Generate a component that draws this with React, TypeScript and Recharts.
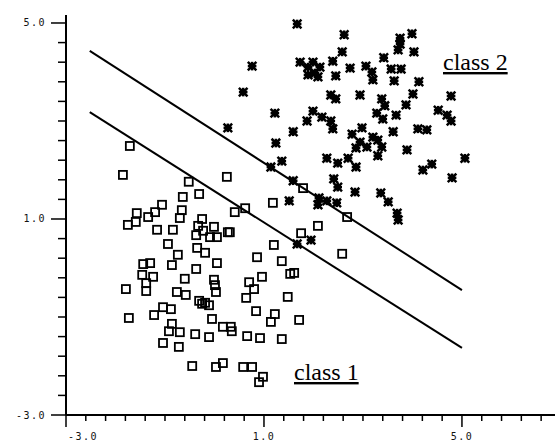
import React from "react";
import { ScatterChart, Scatter, XAxis, YAxis, Customized } from "recharts";

// class 1 (open squares), [x, y]
const CLASS_1: [number, number][] = [
  [-1.71, 2.49], [-1.85, 1.9], [-0.52, 1.76], [0.25, 1.86], [-0.64, 1.45],
  [-0.31, 1.51], [-1.06, 1.29], [-1.2, 1.14], [-1.34, 1.04], [-1.57, 1.12],
  [-1.59, 0.94], [-1.75, 0.88], [-0.66, 1.18], [-0.7, 1.02], [-0.25, 1.0],
  [-1.16, 0.78], [-0.84, 0.78], [-0.33, 0.86], [-0.23, 0.76], [-0.37, 0.67],
  [-0.01, 0.84], [-0.09, 0.63], [0.05, 0.63], [0.27, 0.73], [-0.94, 0.49],
  [-0.35, 0.41], [-0.19, 0.31], [-0.74, 0.27], [-1.44, 0.08], [-1.3, 0.1],
  [-0.86, 0.06], [0.05, 0.1], [-0.37, -0.02], [-1.46, -0.14], [-1.24, -0.18],
  [-1.79, -0.43], [-1.38, -0.31], [-1.38, -0.47], [-0.6, -0.22], [-0.01, -0.24],
  [0.01, -0.35], [0.03, -0.49], [-0.76, -0.49], [-0.58, -0.55], [-0.31, -0.67],
  [-0.19, -0.71], [-0.11, -0.76], [-0.25, -0.73], [-1.04, -0.8], [-0.88, -0.84],
  [-1.22, -0.96], [-1.73, -1.02], [-0.05, -1.04], [0.17, -1.2], [0.33, -1.2],
  [-0.86, -1.14], [-0.92, -1.29], [-0.7, -1.31], [-0.39, -1.35], [-0.11, -1.41],
  [-1.04, -1.53], [-0.72, -1.61], [-0.45, -2.0], [0.03, -2.02], [0.17, -1.94],
  [1.18, 1.33], [0.41, 1.14], [0.62, 1.22], [0.31, 0.73], [1.75, 0.71],
  [2.09, 0.86], [1.79, 1.63], [2.68, 1.04], [1.2, 0.47], [0.86, 0.22],
  [1.36, 0.14], [2.58, 0.29], [0.96, -0.18], [0.7, -0.29], [0.8, -0.43],
  [0.64, -0.61], [1.53, -0.12], [1.61, -0.1], [1.48, -0.59], [0.84, -0.88],
  [1.22, -0.94], [1.14, -1.1], [1.71, -1.06], [0.35, -1.29], [0.66, -1.39],
  [0.92, -1.43], [1.36, -1.45], [0.58, -2.02], [0.76, -2.02], [0.98, -2.22],
  [0.9, -2.33],
];

// class 2 (asterisks), [x, y]
const CLASS_2: [number, number][] = [
  [1.67, 4.98], [2.62, 4.76], [3.75, 4.69], [3.99, 4.78], [3.75, 4.57],
  [3.71, 4.45], [4.03, 4.41], [2.58, 4.41], [2.39, 4.22], [3.42, 4.29],
  [1.73, 4.2], [1.89, 4.1], [1.99, 4.2], [2.13, 4.1], [2.03, 3.98],
  [1.89, 3.94], [2.09, 3.9], [2.45, 3.92], [2.74, 4.08], [3.06, 4.12],
  [3.18, 4.0], [3.2, 3.84], [3.57, 4.06], [3.77, 4.06], [3.63, 3.82],
  [4.13, 3.8], [0.76, 4.12], [0.58, 3.59], [2.35, 3.53], [2.45, 3.45],
  [2.94, 3.53], [4.01, 3.55], [4.78, 3.51], [1.22, 3.16], [1.99, 3.2],
  [2.17, 3.08], [2.35, 3.0], [2.39, 2.84], [1.87, 3.0], [3.38, 3.45],
  [3.44, 3.31], [3.28, 3.16], [3.4, 3.04], [3.67, 3.12], [3.87, 3.33],
  [1.59, 2.78], [1.24, 2.55], [0.27, 2.86], [2.78, 2.73], [2.98, 2.86],
  [2.94, 2.57], [3.08, 2.47], [3.2, 2.67], [3.3, 2.61], [3.38, 2.47],
  [3.3, 2.29], [2.86, 2.45], [3.61, 2.78], [4.11, 2.84], [4.29, 2.82],
  [4.52, 3.22], [4.7, 3.12], [4.78, 3.0], [3.89, 2.41], [1.36, 2.18],
  [1.14, 2.06], [2.27, 2.24], [2.49, 2.14], [2.7, 2.24], [2.86, 2.06],
  [2.41, 1.82], [2.49, 1.65], [1.59, 1.78], [1.51, 1.37], [2.84, 1.55],
  [3.36, 1.53], [3.51, 1.35], [3.69, 1.12], [3.71, 0.98], [2.11, 1.43],
  [2.27, 1.37], [2.47, 1.33], [2.09, 1.29], [4.21, 2.0], [4.39, 2.12],
  [5.06, 2.24], [4.8, 1.84], [1.95, 0.57], [1.67, 0.49],
];

// the two separating lines
const UPPER_LINE = [
  { x: -2.52, y: 4.43 },
  { x: 5.0, y: -0.45 },
];
const LOWER_LINE = [
  { x: -2.52, y: 3.18 },
  { x: 5.0, y: -1.63 },
];

const X_TICKS = [
  -3, -2.6, -2.2, -1.8, -1.4, -1, -0.6, -0.2, 0.2, 0.6, 1, 1.4, 1.8, 2.2,
  2.6, 3, 3.4, 3.8, 4.2, 4.6, 5, 5.4, 5.8, 6.2, 6.6,
];
const Y_TICKS = [
  -3, -2.6, -2.2, -1.8, -1.4, -1, -0.6, -0.2, 0.2, 0.6, 1, 1.4, 1.8, 2.2,
  2.6, 3, 3.4, 3.8, 4.2, 4.6, 5,
];
const MAJOR_VALUES = [-3, 1, 5];
const MAJOR_LABELS = ["-3.0", "1.0", "5.0"];

const TICK_FONT = "'DejaVu Sans Mono', monospace";

const class1Data = CLASS_1.map(([x, y]) => ({ x, y }));
const class2Data = CLASS_2.map(([x, y]) => ({ x, y }));

function labelFor(v: number) {
  const i = MAJOR_VALUES.indexOf(v);
  return i >= 0 ? MAJOR_LABELS[i] : null;
}

function XTick({ x, y, payload }: any) {
  const label = labelFor(payload.value);
  const first = payload.value === -3;
  return (
    <g>
      <line x1={x} x2={x} y1={y} y2={y + (label ? 12 : 6)} stroke="#000" strokeWidth={1.5} />
      {label && (
        <text
          x={first ? x + 2 : x}
          y={y + 25}
          textAnchor={first ? "start" : "middle"}
          fontFamily={TICK_FONT}
          fontSize={10}
          letterSpacing={1.5}
          fill="#111"
        >
          {label}
        </text>
      )}
    </g>
  );
}

function YTick({ x, y, payload }: any) {
  const label = labelFor(payload.value);
  return (
    <g>
      <line x1={x - (label ? 15 : 8)} x2={x} y1={y} y2={y} stroke="#000" strokeWidth={1.5} />
      {label && (
        <text
          x={x - 20}
          y={y + 3.5}
          textAnchor="end"
          fontFamily={TICK_FONT}
          fontSize={10}
          letterSpacing={1.5}
          fill="#111"
        >
          {label}
        </text>
      )}
    </g>
  );
}

function OpenSquare({ cx, cy }: any) {
  return <rect x={cx - 4} y={cy - 4} width={8} height={8} fill="none" stroke="#000" strokeWidth={1.8} />;
}

function Asterisk({ cx, cy }: any) {
  const r = 4.3;
  return (
    <g stroke="#000" strokeWidth={2.5}>
      <rect x={cx - 3} y={cy - 3} width={6} height={6} fill="#000" stroke="none" />
      <line x1={cx - r} x2={cx + r} y1={cy} y2={cy} />
      <line x1={cx} x2={cx} y1={cy - r} y2={cy + r} />
      <line x1={cx - r} x2={cx + r} y1={cy - r} y2={cy + r} />
      <line x1={cx - r} x2={cx + r} y1={cy + r} y2={cy - r} />
    </g>
  );
}

const NoDot = () => <g />;

function ClassLabels() {
  const style = {
    fontFamily: "'Liberation Serif', 'Times New Roman', serif",
    fontSize: 24,
    textDecoration: "underline",
  };
  return (
    <g fill="#000">
      <text x={443} y={70} style={style}>class 2</text>
      <text x={294} y={380} style={style}>class 1</text>
    </g>
  );
}

export default function App() {
  return (
    <div style={{ position: "absolute", left: 0, top: 0, background: "#fff" }}>
      <ScatterChart width={555} height={444} margin={{ top: 15, right: 0, bottom: 0, left: 0 }}>
        <XAxis
          type="number"
          dataKey="x"
          domain={[-3, 6.88]}
          ticks={X_TICKS}
          interval={0}
          height={29}
          tickSize={0}
          tickMargin={0}
          tickLine={false}
          tick={<XTick />}
          axisLine={{ stroke: "#000", strokeWidth: 2 }}
          allowDataOverflow
        />
        <YAxis
          type="number"
          dataKey="y"
          domain={[-3, 5.163]}
          ticks={Y_TICKS}
          interval={0}
          width={66}
          tickSize={0}
          tickMargin={0}
          tickLine={false}
          tick={<YTick />}
          axisLine={{ stroke: "#000", strokeWidth: 2 }}
          allowDataOverflow
        />
        <Scatter
          data={UPPER_LINE}
          line={{ stroke: "#000", strokeWidth: 2 }}
          shape={NoDot}
          isAnimationActive={false}
        />
        <Scatter
          data={LOWER_LINE}
          line={{ stroke: "#000", strokeWidth: 2 }}
          shape={NoDot}
          isAnimationActive={false}
        />
        <Scatter data={class1Data} shape={OpenSquare} isAnimationActive={false} />
        <Scatter data={class2Data} shape={Asterisk} isAnimationActive={false} />
        <Customized component={ClassLabels} />
      </ScatterChart>
    </div>
  );
}
